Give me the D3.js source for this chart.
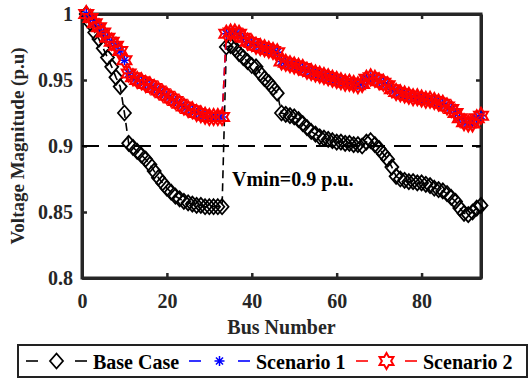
<!DOCTYPE html>
<html><head><meta charset="utf-8">
<script src="https://cdn.jsdelivr.net/npm/d3@7"></script>
<style>body{margin:0;background:#fff}svg{display:block}</style>
</head><body><svg id="c" width="530" height="379"></svg>
<script>
const baseCase = [
  1.000, 0.993, 0.986, 0.981, 0.974, 0.967, 0.960, 0.952, 0.945, 0.925,
  0.902, 0.899, 0.896, 0.893, 0.890, 0.886, 0.881, 0.876, 0.872, 0.868,
  0.865, 0.862, 0.860, 0.858, 0.857, 0.856, 0.855, 0.855, 0.854, 0.854,
  0.854, 0.854, 0.854,
  0.975, 0.976, 0.974, 0.970, 0.967, 0.964, 0.961,
  0.960, 0.955, 0.951, 0.948, 0.944, 0.940, 0.925, 0.924, 0.923, 0.922,
  0.920, 0.917, 0.914, 0.911, 0.909, 0.907, 0.906, 0.905, 0.904, 0.903,
  0.903, 0.902, 0.902, 0.901, 0.901, 0.900, 0.903, 0.904, 0.901, 0.898,
  0.894, 0.890, 0.884, 0.877, 0.875, 0.874, 0.873, 0.873, 0.872, 0.872,
  0.871, 0.870, 0.868, 0.867, 0.866, 0.864, 0.861, 0.858, 0.853, 0.849,
  0.848, 0.850, 0.853, 0.855
];
const scenario1 = [
  1.000, 0.997, 0.993, 0.990, 0.986, 0.982, 0.979, 0.976, 0.972, 0.965,
  0.955, 0.952, 0.950, 0.949, 0.947, 0.946, 0.944, 0.942, 0.940, 0.938,
  0.936, 0.934, 0.932, 0.930, 0.928, 0.927, 0.925, 0.924, 0.923, 0.922,
  0.922, 0.922, 0.922,
  0.985, 0.986, 0.986, 0.985, 0.982, 0.979, 0.978,
  0.976, 0.975, 0.974, 0.973, 0.972, 0.971, 0.964, 0.963, 0.962, 0.961,
  0.960, 0.959, 0.957, 0.956, 0.955, 0.954, 0.953, 0.952, 0.951, 0.950,
  0.949, 0.948, 0.948, 0.947, 0.946, 0.947, 0.951, 0.952, 0.951, 0.949,
  0.948, 0.946, 0.943, 0.941, 0.940, 0.939, 0.938, 0.937, 0.937, 0.936,
  0.935, 0.935, 0.934, 0.933, 0.932, 0.930, 0.928, 0.925, 0.921, 0.918,
  0.917, 0.917, 0.921, 0.923
];
const scenario2 = [
  1.000, 0.997, 0.993, 0.990, 0.986, 0.982, 0.979, 0.976, 0.972, 0.965,
  0.955, 0.952, 0.950, 0.949, 0.947, 0.946, 0.944, 0.942, 0.940, 0.938,
  0.936, 0.934, 0.932, 0.930, 0.928, 0.927, 0.925, 0.924, 0.923, 0.922,
  0.922, 0.922, 0.922,
  0.985, 0.986, 0.986, 0.985, 0.982, 0.979, 0.978,
  0.976, 0.975, 0.974, 0.973, 0.972, 0.971, 0.964, 0.963, 0.962, 0.961,
  0.960, 0.959, 0.957, 0.956, 0.955, 0.954, 0.953, 0.952, 0.951, 0.950,
  0.949, 0.948, 0.948, 0.947, 0.946, 0.947, 0.951, 0.952, 0.951, 0.949,
  0.948, 0.946, 0.943, 0.941, 0.940, 0.939, 0.938, 0.937, 0.937, 0.936,
  0.935, 0.935, 0.934, 0.933, 0.932, 0.930, 0.928, 0.925, 0.921, 0.918,
  0.917, 0.917, 0.921, 0.923
];
const seriesNames = ["Base Case", "Scenario 1", "Scenario 2"];
const xTicks = [0, 20, 40, 60, 80];
const yTicks = [0.8, 0.85, 0.9, 0.95, 1];
const yTickLabels = ["0.8", "0.85", "0.9", "0.95", "1"];
const xDomain = [0, 94];
const yDomain = [0.8, 1];
const vminLevel = 0.9;
const vminText = "Vmin=0.9 p.u.";
const xLabel = "Bus Number";
const yLabel = "Voltage Magnitude (p.u)";

const FONT = "'Liberation Serif','Times New Roman',serif";
const AX = "#262626";
const svg = d3.select("#c");
const L = 82, R = 481, T = 14, B = 278;
const x = d3.scaleLinear(xDomain, [L, R]);
const y = d3.scaleLinear(yDomain, [B, T]);

function diamondPath(){ return "M0,-7.5L6.5,0L0,7.5L-6.5,0Z"; }
function hexagramPath(){
  const Ro = 8, Ri = Ro/Math.sqrt(3); const pts=[];
  for(let k=0;k<12;k++){ const a=-Math.PI/2 + k*Math.PI/6; const r = k%2===0?Ro:Ri; pts.push([r*Math.cos(a), r*Math.sin(a)]); }
  return "M"+pts.map(p=>p[0].toFixed(2)+","+p[1].toFixed(2)).join("L")+"Z";
}
function asteriskPath(){
  const s=5, d=s*0.707;
  return `M${-s},0L${s},0M0,${-s}L0,${s}M${-d},${-d}L${d},${d}M${-d},${d}L${d},${-d}`;
}

const gx = svg.append("g").attr("transform",`translate(0,${B})`)
  .call(d3.axisBottom(x).tickValues(xTicks).tickSize(-5).tickSizeOuter(0).tickPadding(16).tickFormat(d3.format("d")));
const gxt = svg.append("g").attr("transform",`translate(0,${T})`)
  .call(d3.axisTop(x).tickValues(xTicks).tickSize(-5).tickSizeOuter(0).tickFormat(""));
const gy = svg.append("g").attr("transform",`translate(${L},0)`)
  .call(d3.axisLeft(y).tickValues(yTicks).tickSize(-5).tickSizeOuter(0).tickPadding(9).tickFormat((d,i)=>yTickLabels[i]));
const gyr = svg.append("g").attr("transform",`translate(${R},0)`)
  .call(d3.axisRight(y).tickValues(yTicks).tickSize(-5).tickSizeOuter(0).tickFormat(""));
[gx,gxt,gy,gyr].forEach(g=>{
  g.select(".domain").attr("stroke",AX).attr("stroke-width",3);
  g.selectAll(".tick line").attr("stroke",AX).attr("stroke-width",2.5);
  g.selectAll("text").attr("fill",AX).style("font-family",FONT).style("font-weight","bold").style("font-size","20px");
});
svg.append("rect").attr("x",L).attr("y",T).attr("width",R-L).attr("height",B-T)
  .attr("fill","none").attr("stroke",AX).attr("stroke-width",3);

svg.append("text").attr("x",(L+R)/2).attr("y",334).attr("text-anchor","middle")
  .style("font-family",FONT).style("font-weight","bold").style("font-size","20px").attr("fill",AX).text(xLabel);
svg.append("text").attr("transform",`translate(24,${(T+B)/2}) rotate(-90)`).attr("text-anchor","middle")
  .style("font-family",FONT).style("font-weight","bold").style("font-size","19px").attr("fill",AX).text(yLabel);

svg.append("line").attr("x1",x(xDomain[0])).attr("x2",x(xDomain[1])).attr("y1",y(vminLevel)).attr("y2",y(vminLevel))
  .attr("stroke","#000").attr("stroke-width",2).attr("stroke-dasharray","17,9");
svg.append("text").attr("x",232).attr("y",186)
  .style("font-family",FONT).style("font-weight","bold").style("font-size","20px").attr("fill","#000").text(vminText);

const line = d3.line().x((d,i)=>x(i+1)).y(d=>y(d));
const specs = [
  {data: baseCase, color:"#000", path: diamondPath(), mw: 1.8},
  {data: scenario1, color:"#0000ff", path: asteriskPath(), mw: 1.5},
  {data: scenario2, color:"#ff0000", path: hexagramPath(), mw: 2}
];
specs.forEach(s=>{
  svg.append("path").datum(s.data).attr("d",line).attr("fill","none")
    .attr("stroke",s.color).attr("stroke-width",1.6).attr("stroke-dasharray","8,5");
  svg.append("g").selectAll("path").data(s.data).join("path")
    .attr("transform",(d,i)=>`translate(${x(i+1)},${y(d)})`)
    .attr("d",s.path).attr("fill","none").attr("stroke",s.color).attr("stroke-width",s.mw);
});

const lg = svg.append("g");
lg.append("rect").attr("x",18).attr("y",345).attr("width",509).attr("height",32)
  .attr("fill","#fff").attr("stroke","#222").attr("stroke-width",2);
const legendItems = [
  {x0: 26, name: seriesNames[0], s: specs[0]},
  {x0: 189, name: seriesNames[1], s: specs[1]},
  {x0: 356, name: seriesNames[2], s: specs[2]}
];
legendItems.forEach(it=>{
  const cy = 361;
  lg.append("line").attr("x1",it.x0).attr("x2",it.x0+12).attr("y1",cy).attr("y2",cy).attr("stroke",it.s.color).attr("stroke-width",1.6);
  lg.append("line").attr("x1",it.x0+49).attr("x2",it.x0+61).attr("y1",cy).attr("y2",cy).attr("stroke",it.s.color).attr("stroke-width",1.6);
  lg.append("path").attr("transform",`translate(${it.x0+30.5},${cy})`).attr("d",it.s.path)
    .attr("fill","none").attr("stroke",it.s.color).attr("stroke-width",it.s.mw);
  lg.append("text").attr("x",it.x0+67).attr("y",369)
    .style("font-family",FONT).style("font-weight","bold").style("font-size","20px").attr("fill","#000").text(it.name);
});
</script></body></html>
